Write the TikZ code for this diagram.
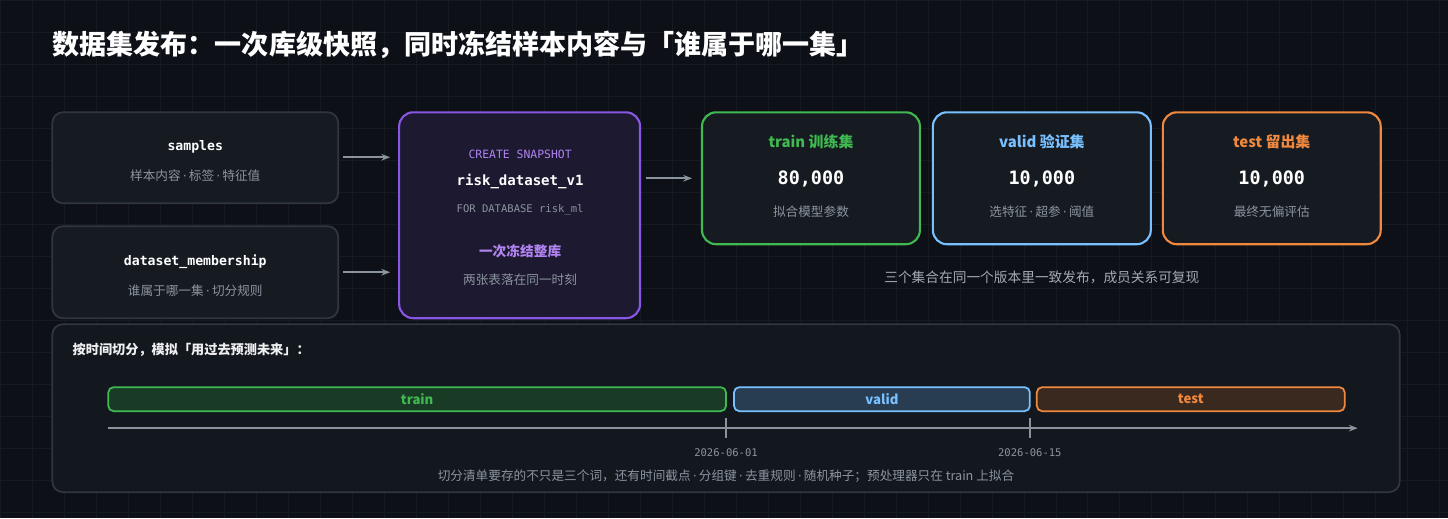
\documentclass[tikz,border=0pt]{standalone}
\usepackage{fontspec}
\setmainfont{Noto Sans CJK SC}
\setmonofont{DejaVu Sans Mono}
\newfontfamily\dotfont{DejaVu Sans}
\newcommand{\md}{{\dotfont\,·\,}}
\usetikzlibrary{arrows.meta}
\definecolor{bg}{HTML}{0D1117}
\definecolor{gridc}{HTML}{161B22}
\definecolor{cardbg}{HTML}{161B22}
\definecolor{cardln}{HTML}{30363D}
\definecolor{subtxt}{HTML}{8B949E}
\definecolor{purp}{HTML}{8957E5}
\definecolor{purptxt}{HTML}{B083F0}
\definecolor{grn}{HTML}{3FB950}
\definecolor{blu}{HTML}{79C0FF}
\definecolor{org}{HTML}{F0883E}
\tikzset{
  card/.style={draw=cardln, fill=cardbg, rounded corners=6pt, line width=1pt},
  lbl/.style={font=\fontsize{7.2}{9}\selectfont, text=subtxt},
  key/.style={font=\ttfamily\bfseries\fontsize{7.5}{9}\selectfont, text=white},
  num/.style={font=\ttfamily\bfseries\fontsize{10.5}{12}\selectfont, text=white},
  arr/.style={-{Stealth[length=5pt]}, draw=subtxt, line width=1pt},
  bar/.style={rounded corners=3pt, line width=1pt},
}
\begin{document}
\begin{tikzpicture}[x=0.02cm, y=-0.02cm]
  % background
  \fill[bg] (0,0) rectangle (1448,518);
  \foreach \gx in {0,32,...,1448} \draw[gridc, line width=0.4pt] (\gx,0) -- (\gx,518);
  \foreach \gy in {0,32,...,518} \draw[gridc, line width=0.4pt] (0,\gy) -- (1448,\gy);
  \useasboundingbox (0,0) rectangle (1448,518);

  % title
  \node[anchor=west, inner sep=0pt, text=white, font=\bfseries\fontsize{15.4}{18}\selectfont] (title) at (52,45)
    {数据集发布：一次库级快照，同时冻结样本内容与「谁属于哪一集」};

  % source tables
  \draw[card] (52,112) rectangle (338,203);
  \node[key] (samples) at (195,147) {samples};
  \node[lbl] (samplesd) at (195,175) {样本内容\md 标签\md 特征值};
  \draw[card] (52,226) rectangle (338,318);
  \node[key] (member) at (195,261) {dataset\_membership};
  \node[lbl] (memberd) at (195,290) {谁属于哪一集\md 切分规则};

  % snapshot
  \draw[rounded corners=8pt, draw=purp, fill=purp!12!bg, line width=1.2pt] (399,112) rectangle (640,318);
  \node[font=\ttfamily\fontsize{6.5}{8}\selectfont, text=purptxt] (snapcmd) at (520,154) {CREATE SNAPSHOT};
  \node[key, font=\ttfamily\bfseries\fontsize{8}{10}\selectfont] (snapname) at (520,181) {risk\_dataset\_v1};
  \node[font=\ttfamily\fontsize{6}{8}\selectfont, text=subtxt] (snapdb) at (520,209) {FOR DATABASE risk\_ml};
  \node[font=\bfseries\fontsize{7.8}{9}\selectfont, text=purptxt] (snapfrz) at (520,251) {一次冻结整库};
  \node[lbl] (snaptime) at (520,279) {两张表落在同一时刻};
  \coordinate (snapL1) at (390,157);
  \coordinate (snapL2) at (390,272);
  \coordinate (snapR) at (646,178);

  % arrows in
  \coordinate (samplesR) at (343,157);
  \coordinate (memberR) at (343,272);
  \coordinate (trainL) at (692,178);
  \draw[arr] (samplesR) -- (snapL1);
  \draw[arr] (memberR) -- (snapL2);
  \draw[arr] (snapR) -- (trainL);

  % result sets
  \foreach \name/\x/\c/\en/\zh/\n/\d in {
      train/702/grn/train/训练集/80{,}000/拟合模型参数,
      valid/933/blu/valid/验证集/10{,}000/选特征\md 超参\md 阈值,
      test/1163/org/test/留出集/10{,}000/最终无偏评估} {
    \draw[rounded corners=8pt, draw=\c, fill=cardbg, line width=1.2pt] (\x,112) rectangle ++(218,132);
    \node[font=\bfseries\fontsize{8.5}{10}\selectfont, text=\c] (\name h) at (\x+109,141) {\en{} \zh};
    \node[num] (\name n) at (\x+109,179) {\n};
    \node[lbl] (\name d) at (\x+109,211) {\d};
  }
  \node[font=\fontsize{7.8}{9}\selectfont, text=subtxt!80!white] (note) at (1042,277)
    {三个集合在同一个版本里一致发布，成员关系可复现};

  % time split panel
  \draw[card, fill=cardbg!70!bg] (52,324) rectangle (1400,492);
  \node[anchor=west, inner sep=0pt, font=\bfseries\fontsize{7.5}{9}\selectfont, text=white!85!subtxt] (panelh) at (72,350)
    {按时间切分，模拟「用过去预测未来」：};
  \draw[bar, draw=grn, fill=grn!25!bg] (108,387) rectangle (726,411);
  \node[font=\bfseries\fontsize{7.5}{9}\selectfont, text=grn] (bartrain) at (417,399) {train};
  \draw[bar, draw=blu, fill=blu!25!bg] (734,387) rectangle (1030,411);
  \node[font=\bfseries\fontsize{7.5}{9}\selectfont, text=blu] (barvalid) at (882,399) {valid};
  \draw[bar, draw=org, fill=org!20!bg] (1037,387) rectangle (1345,411);
  \node[font=\bfseries\fontsize{7.5}{9}\selectfont, text=org] (bartest) at (1191,399) {test};

  \coordinate (axL) at (108,428);
  \coordinate (axR) at (1358,428);
  \draw[arr] (axL) -- (axR);
  \draw[subtxt, line width=1.2pt] (726,418) -- (726,438);
  \draw[subtxt, line width=1.2pt] (1030,418) -- (1030,438);
  \node[font=\ttfamily\fontsize{6}{8}\selectfont, text=subtxt] (d1) at (726,453) {2026-06-01};
  \node[font=\ttfamily\fontsize{6}{8}\selectfont, text=subtxt] (d2) at (1030,453) {2026-06-15};
  \node[lbl] (foot) at (726,476)
    {切分清单要存的不只是三个词，还有时间截点\md 分组键\md 去重规则\md 随机种子；预处理器只在 train 上拟合};
\end{tikzpicture}
\end{document}
